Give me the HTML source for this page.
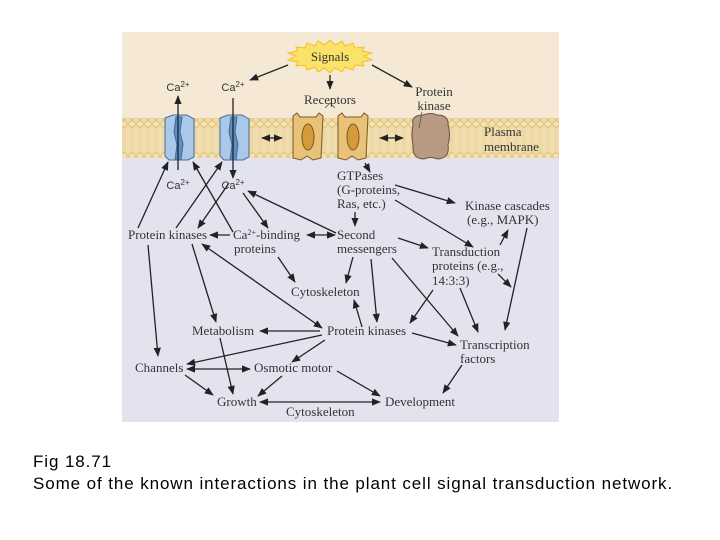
<!DOCTYPE html>
<html><head><meta charset="utf-8"><style>
body{margin:0;background:#fff;width:720px;height:540px;overflow:hidden;position:relative}
.cap{position:absolute;left:33px;font-family:"Liberation Sans",sans-serif;font-size:17px;letter-spacing:0.9px;color:#000}
svg text{font-family:"Liberation Serif",serif;font-size:13px;fill:#333}
svg text.s{font-family:"Liberation Sans",sans-serif;font-size:11px}
</style></head><body>
<svg width="720" height="540" style="position:absolute;left:0;top:0">
<defs>
<marker id="a" viewBox="0 0 10 10" refX="9" refY="5" markerWidth="7" markerHeight="7" orient="auto-start-reverse"><path d="M0,1 L10,5 L0,9z" fill="#222"/></marker>
<pattern id="bead" width="8" height="40" patternUnits="userSpaceOnUse"><circle cx="4" cy="4" r="3.3" fill="#f6e2ac" stroke="#d8b870" stroke-width="0.8"/><circle cx="4" cy="36" r="3.3" fill="#f6e2ac" stroke="#d8b870" stroke-width="0.8"/><line x1="3" y1="8" x2="3" y2="32" stroke="#e6cd8c" stroke-width="0.6"/><line x1="5" y1="8" x2="5" y2="32" stroke="#e6cd8c" stroke-width="0.6"/></pattern>
</defs>
<rect x="122" y="32" width="437" height="390" fill="#e3e3f0"/>
<rect x="122" y="32" width="437" height="88" fill="#f5e9d6"/>
<rect x="122" y="118" width="437" height="40" fill="#f0ddb0"/>
<rect x="122" y="118" width="437" height="40" fill="url(#bead)"/>
<polygon fill="#fbe36a" stroke="#f0c020" stroke-width="1" points="330,40 335,45 342,41 345,46 353,43 355,48 364,47 362,51 372,53 364,56 372,60 362,62 364,66 355,65 353,70 345,67 342,72 335,68 330,73 325,68 318,72 315,67 307,70 305,65 296,66 298,62 288,60 296,56 288,53 298,51 296,47 305,48 307,43 315,46 318,41 325,45"/>
<text x="330" y="61" text-anchor="middle">Signals</text>
<g stroke="#4a6a90" stroke-width="1"><path d="M165,118 l8,-3 l14,0 l7,4 l0,38 l-6,3 l-19,0 l-4,-4z" fill="#a9c8ea"/><path d="M176,117 l6,0 l-2,15 l3,12 l-2,16 l-6,0 l2,-15 l-3,-13z" fill="#5b8fc8"/>
<path d="M220,118 l8,-3 l14,0 l7,4 l0,38 l-6,3 l-19,0 l-4,-4z" fill="#a9c8ea"/><path d="M231,117 l6,0 l-2,15 l3,12 l-2,16 l-6,0 l2,-15 l-3,-13z" fill="#5b8fc8"/></g>
<g stroke="#7a5a20" stroke-width="1" fill="#e9c27a"><path d="M293,116 l4,-3 l3,4 l16,0 l3,-4 l4,3 l-2,42 l-8,2 l-6,-4 l-6,4 l-8,-2z"/><path d="M338,116 l4,-3 l3,4 l16,0 l3,-4 l4,3 l-2,42 l-8,2 l-6,-4 l-6,4 l-8,-2z"/></g>
<ellipse cx="308" cy="137" rx="6" ry="13" fill="#d59a3a" stroke="#7a5a20"/><ellipse cx="353" cy="137" rx="6" ry="13" fill="#d59a3a" stroke="#7a5a20"/>
<path d="M413,125 q-2,-10 10,-10 q8,-3 14,0 q12,0 11,10 q3,10 0,20 q2,13 -10,14 q-8,-3 -14,0 q-12,0 -11,-14 q-2,-10 0,-20z" fill="#b89a82" stroke="#6a5040"/>
<path d="M325,108 l5,-5 l5,5 M422,112 l-3,16" stroke="#555" fill="none" stroke-width="0.8"/>
<text class="s" x="178" y="91" text-anchor="middle">Ca<tspan dy="-4" font-size="8">2+</tspan></text>
<text class="s" x="233" y="91" text-anchor="middle">Ca<tspan dy="-4" font-size="8">2+</tspan></text>
<text class="s" x="178" y="189" text-anchor="middle">Ca<tspan dy="-4" font-size="8">2+</tspan></text>
<text class="s" x="233" y="189" text-anchor="middle">Ca<tspan dy="-4" font-size="8">2+</tspan></text>
<text x="330" y="104" text-anchor="middle">Receptors</text>
<text x="434" y="96" text-anchor="middle">Protein</text><text x="434" y="110" text-anchor="middle">kinase</text>
<text x="484" y="136">Plasma</text><text x="484" y="151">membrane</text>
<text x="337" y="180">GTPases</text><text x="337" y="194">(G-proteins,</text><text x="337" y="208">Ras, etc.)</text>
<text x="465" y="210">Kinase cascades</text><text x="467" y="224">(e.g., MAPK)</text>
<text x="128" y="239">Protein kinases</text>
<text x="233" y="239">Ca<tspan dy="-4" font-size="8">2+</tspan><tspan dy="4">-binding</tspan></text><text x="234" y="253">proteins</text>
<text x="337" y="239">Second</text><text x="337" y="253">messengers</text>
<text x="432" y="256">Transduction</text><text x="432" y="270">proteins (e.g.,</text><text x="432" y="285">14:3:3)</text>
<text x="291" y="296">Cytoskeleton</text>
<text x="192" y="335">Metabolism</text><text x="327" y="335">Protein kinases</text>
<text x="460" y="349">Transcription</text><text x="460" y="363">factors</text>
<text x="135" y="372">Channels</text><text x="254" y="372">Osmotic motor</text>
<text x="217" y="406">Growth</text><text x="385" y="406">Development</text><text x="286" y="416">Cytoskeleton</text>
<g stroke="#222" stroke-width="1.3" fill="none" marker-end="url(#a)">
<line x1="288" y1="65" x2="250" y2="80"/><line x1="330" y1="75" x2="330" y2="89"/><line x1="372" y1="65" x2="412" y2="87"/>
<line x1="178" y1="170" x2="178" y2="96"/><line x1="233" y1="98" x2="233" y2="178"/>
<line x1="262" y1="138" x2="282" y2="138" marker-start="url(#a)"/><line x1="380" y1="138" x2="403" y2="138" marker-start="url(#a)"/>
<line x1="365" y1="163" x2="370" y2="172"/>
<line x1="395" y1="185" x2="455" y2="203"/><line x1="355" y1="212" x2="355" y2="226"/>
<line x1="395" y1="200" x2="473" y2="247"/>
<line x1="138" y1="228" x2="168" y2="162"/><line x1="176" y1="228" x2="222" y2="162"/><line x1="229" y1="183" x2="198" y2="228"/>
<line x1="233" y1="232" x2="193" y2="162"/><line x1="243" y1="193" x2="268" y2="228"/>
<line x1="336" y1="233" x2="248" y2="191"/>
<line x1="230" y1="235" x2="210" y2="235"/><line x1="307" y1="235" x2="335" y2="235" marker-start="url(#a)"/>
<line x1="398" y1="238" x2="428" y2="248"/><line x1="500" y1="245" x2="508" y2="230"/>
<line x1="498" y1="274" x2="511" y2="287"/><line x1="527" y1="228" x2="505" y2="330"/>
<line x1="278" y1="257" x2="295" y2="282"/><line x1="353" y1="257" x2="346" y2="283"/>
<line x1="362" y1="327" x2="354" y2="300"/><line x1="371" y1="259" x2="377" y2="322"/>
<line x1="392" y1="258" x2="458" y2="336"/><line x1="433" y1="290" x2="410" y2="323"/>
<line x1="460" y1="288" x2="478" y2="332"/>
<line x1="412" y1="333" x2="456" y2="345"/>
<line x1="148" y1="245" x2="158" y2="356"/><line x1="192" y1="244" x2="216" y2="322"/>
<line x1="322" y1="328" x2="202" y2="244" marker-start="url(#a)"/>
<line x1="320" y1="331" x2="260" y2="331"/>
<line x1="220" y1="338" x2="233" y2="394"/>
<line x1="322" y1="335" x2="187" y2="364"/><line x1="325" y1="340" x2="292" y2="362"/>
<line x1="187" y1="369" x2="250" y2="369" marker-start="url(#a)"/>
<line x1="185" y1="375" x2="213" y2="395"/><line x1="282" y1="376" x2="258" y2="396"/>
<line x1="337" y1="371" x2="380" y2="396"/><line x1="462" y1="365" x2="443" y2="393"/>
<line x1="260" y1="402" x2="380" y2="402" marker-start="url(#a)"/>
</g>
</svg>
<div class="cap" style="top:452px">Fig 18.71</div>
<div class="cap" style="top:474px">Some of the known interactions in the plant cell signal transduction network.</div>
</body></html>
